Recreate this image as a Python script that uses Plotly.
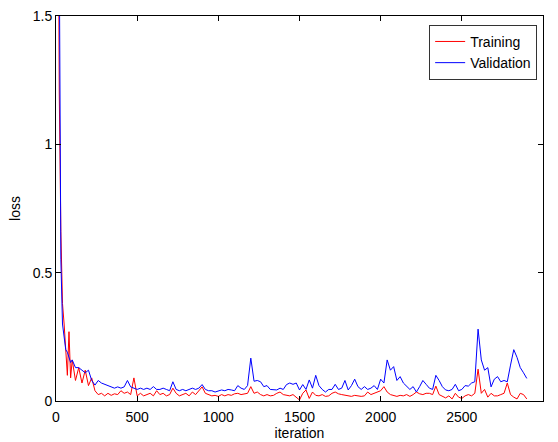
import plotly.graph_objects as go

iterations = [10, 20, 30, 40, 50, 60, 70, 80, 90, 100] + list(range(120, 2920, 20))

training_loss = [
    2.6, 1.2, 0.66, 0.38, 0.30, 0.17, 0.10, 0.27, 0.09, 0.16,
    0.08, 0.13, 0.07, 0.12, 0.06, 0.09, 0.04, 0.025, 0.03, 0.02,
    0.03, 0.022, 0.028, 0.025, 0.04, 0.03, 0.035, 0.025, 0.09, 0.02,
    0.03, 0.02, 0.025, 0.03, 0.02, 0.04, 0.025, 0.03, 0.02, 0.025,
    0.05, 0.03, 0.02, 0.025, 0.03, 0.02, 0.035, 0.025, 0.04, 0.055,
    0.03, 0.025, 0.02, 0.022, 0.018, 0.025, 0.02, 0.025, 0.022, 0.028,
    0.03, 0.025, 0.028, 0.03, 0.056, 0.03, 0.035, 0.025, 0.02, 0.025,
    0.02, 0.022, 0.03, 0.035, 0.025, 0.022, 0.02, 0.025, 0.015, 0.004,
    0.03, 0.043, 0.01, 0.035, 0.022, 0.02, 0.025, 0.018, 0.02, 0.03,
    0.035, 0.028, 0.025, 0.022, 0.02, 0.018, 0.022, 0.02, 0.018, 0.02,
    0.035, 0.025, 0.03, 0.035, 0.04, 0.056, 0.035, 0.025, 0.02, 0.018,
    0.022, 0.02, 0.025, 0.018, 0.025, 0.035, 0.028, 0.025, 0.03, 0.03,
    0.025, 0.058, 0.025, 0.018, 0.012, 0.02, 0.008, 0.03, 0.015, 0.01,
    0.02, 0.025, 0.02, 0.03, 0.124, 0.03, 0.045, 0.015, 0.03, 0.02,
    0.02, 0.025, 0.03, 0.07, 0.025, 0.015, 0.008, 0.03, 0.025, 0.008,
]

validation_loss = [
    3.0, 1.6, 0.55, 0.30, 0.24, 0.20, 0.19, 0.17, 0.15, 0.16,
    0.13, 0.13, 0.12, 0.11, 0.12, 0.08, 0.062, 0.08, 0.07, 0.065,
    0.06, 0.058, 0.05, 0.055, 0.05, 0.055, 0.08, 0.055, 0.05, 0.045,
    0.05, 0.045, 0.05, 0.045, 0.056, 0.045, 0.045, 0.05, 0.045, 0.04,
    0.075, 0.045, 0.04, 0.045, 0.04, 0.045, 0.05, 0.045, 0.05, 0.064,
    0.045, 0.04, 0.04, 0.035, 0.038, 0.043, 0.04, 0.045, 0.043, 0.04,
    0.06, 0.05, 0.045, 0.06, 0.167, 0.077, 0.08, 0.075, 0.056, 0.06,
    0.045, 0.045, 0.043, 0.05, 0.045, 0.064, 0.07, 0.065, 0.07, 0.043,
    0.064, 0.045, 0.082, 0.05, 0.1, 0.06, 0.045, 0.035, 0.045, 0.045,
    0.065, 0.045, 0.05, 0.08, 0.043, 0.06, 0.085, 0.056, 0.045, 0.056,
    0.045, 0.05, 0.06, 0.045, 0.085, 0.07, 0.16, 0.12, 0.134, 0.08,
    0.095, 0.07, 0.056, 0.045, 0.056, 0.035, 0.056, 0.08, 0.065, 0.05,
    0.045, 0.1, 0.08, 0.056, 0.043, 0.04, 0.045, 0.065, 0.04, 0.045,
    0.06, 0.058, 0.07, 0.075, 0.28, 0.16, 0.12, 0.13, 0.055, 0.085,
    0.095, 0.075, 0.08, 0.075, 0.14, 0.2, 0.17, 0.13, 0.11, 0.088,
]

FONT = "Liberation Sans, Arial, sans-serif"

fig = go.Figure()
fig.add_trace(go.Scatter(x=iterations, y=training_loss, mode="lines",
                         name="Training", line=dict(color="#ff0000", width=1)))
fig.add_trace(go.Scatter(x=iterations, y=validation_loss, mode="lines",
                         name="Validation", line=dict(color="#0000ff", width=1)))

axis_common = dict(
    showgrid=False, zeroline=False, showline=True, linecolor="black",
    linewidth=1, mirror="ticks", ticks="inside", ticklen=5, tickcolor="black",
    tickfont=dict(family=FONT, size=14, color="black"), automargin=False,
)

fig.update_layout(
    width=558, height=442,
    margin=dict(l=56, r=15, t=16, b=41),
    paper_bgcolor="white", plot_bgcolor="white",
    font=dict(family=FONT, size=14, color="black"),
    xaxis=dict(range=[0, 3000], tickvals=[0, 500, 1000, 1500, 2000, 2500, 3000],
               ticklabelstandoff=3,
               title=dict(text="iteration", standoff=4,
                          font=dict(family=FONT, size=14)),
               **axis_common),
    yaxis=dict(range=[0, 1.5], tickvals=[0, 0.5, 1, 1.5],
               ticktext=["0", "0.5", "1", "1.5"],
               title=dict(text="loss", standoff=8,
                          font=dict(family=FONT, size=14)),
               **axis_common),
    legend=dict(x=0.988, y=0.977, xanchor="right", yanchor="top",
                bgcolor="white", bordercolor="#333333", borderwidth=1,
                font=dict(family=FONT, size=14, color="black"),
                tracegroupgap=0),
    showlegend=True,
)

fig.write_html("out.html")
